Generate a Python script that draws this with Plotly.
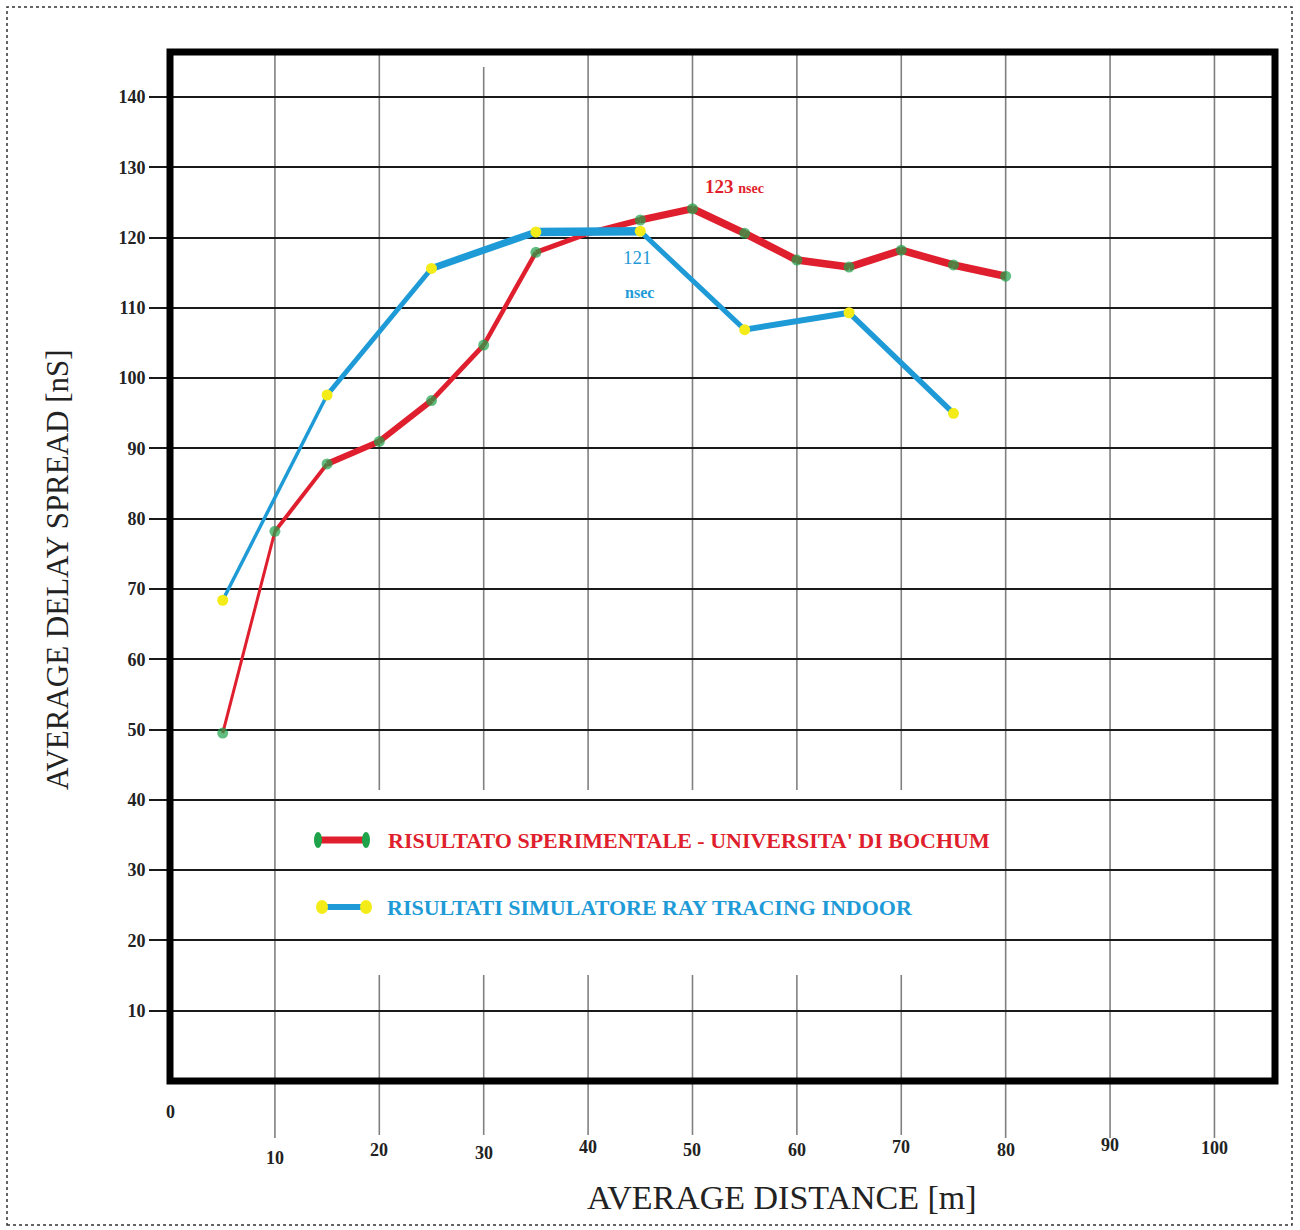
import plotly.graph_objects as go

# ---------------- data ----------------
distance_red = [5, 10, 15, 20, 25, 30, 35, 40, 45, 50, 55, 60, 65, 70, 75, 80]
delay_red = [49.5, 78.2, 87.8, 91.0, 96.8, 104.7, 117.9, 120.6, 122.5, 124.1,
             120.6, 116.8, 115.8, 118.2, 116.1, 114.5]
distance_blue = [5, 15, 25, 35, 45, 55, 65, 75]
delay_blue = [68.4, 97.6, 115.6, 120.8, 120.9, 106.9, 109.3, 95.0]

x_tick_values = [0, 10, 20, 30, 40, 50, 60, 70, 80, 90, 100]
x_tick_labels = ["0", "10", "20", "30", "40", "50", "60", "70", "80", "90", "100"]
y_tick_values = [10, 20, 30, 40, 50, 60, 70, 80, 90, 100, 110, 120, 130, 140]
y_tick_labels = ["10", "20", "30", "40", "50", "60", "70", "80", "90", "100",
                 "110", "120", "130", "140"]

series_names = ["RISULTATO SPERIMENTALE - UNIVERSITA' DI BOCHUM",
                "RISULTATI SIMULATORE RAY TRACING INDOOR"]
x_title = "AVERAGE DISTANCE [m]"
y_title = "AVERAGE DELAY SPREAD [nS]"
red_peak_label = ("123", "nsec")
blue_peak_label = ("121", "nsec")

# ---------------- style ----------------
W, H = 1300, 1230
ML, MR, MT, MB = 170, 25, 52, 149
RED = "#e01f2e"
BLUE = "#1e9bd7"
GREEN = "#1ea34a"
YELLOW = "#f3ec19"
SERIF = "Liberation Serif"


def px(x):
    return (x - ML) / (W - ML - MR)


def py(y):
    return (H - MB - y) / (H - MT - MB)


red_widths = [3, 4, 6, 6, 5, 4.5, 5, 6, 7, 7.5, 7.5, 7.5, 7.5, 7.5, 7.5]
blue_widths = [3.5, 5, 7, 8.5, 5, 6, 5.5]
red_marker_sizes = [11, 11, 11, 11, 11, 11, 11, 0, 11, 11, 11, 11, 11, 11, 11, 11]

fig = go.Figure()

for i in range(len(distance_red) - 1):
    fig.add_trace(go.Scatter(
        x=distance_red[i:i + 2], y=delay_red[i:i + 2], mode="lines",
        line=dict(color=RED, width=red_widths[i]), showlegend=False,
        hoverinfo="skip"))
for i in range(len(distance_blue) - 1):
    fig.add_trace(go.Scatter(
        x=distance_blue[i:i + 2], y=delay_blue[i:i + 2], mode="lines",
        line=dict(color=BLUE, width=blue_widths[i]), showlegend=False,
        hoverinfo="skip"))

fig.add_trace(go.Scatter(
    x=distance_blue, y=delay_blue, mode="markers", name=series_names[1],
    marker=dict(color=YELLOW, size=11, symbol="circle", line=dict(width=0)),
    showlegend=False))
fig.add_trace(go.Scatter(
    x=distance_red, y=delay_red, mode="markers", name=series_names[0],
    marker=dict(color=GREEN, size=red_marker_sizes, symbol="circle", line=dict(width=0)),
    showlegend=False))

shapes = []
# vertical grid lines (gray, interrupted behind the legend)
for xv in x_tick_values[1:]:
    top = py(67) if xv == 30 else 1
    if 20 <= xv <= 70:
        segs = [(py(790), top), (py(1135), py(975))]
    else:
        segs = [(py(1138), top)]
    for y0, y1 in segs:
        shapes.append(dict(type="line", xref="x", yref="paper", x0=xv, x1=xv,
                           y0=y0, y1=y1, line=dict(color="#808080", width=1.6),
                           layer="below"))

# thick black frame
shapes.append(dict(type="rect", xref="paper", yref="paper", x0=0, x1=1, y0=0, y1=1,
                   line=dict(color="black", width=7), layer="above"))
# dotted outer border
shapes.append(dict(type="rect", xref="paper", yref="paper", x0=px(7), x1=px(1292),
                   y0=py(1225), y1=py(7), line=dict(color="#333333", width=1.5, dash="dot")))

# legend symbols
shapes.append(dict(type="line", xref="paper", yref="paper", x0=px(318), x1=px(366),
                   y0=py(840), y1=py(840), line=dict(color=RED, width=7)))
for cx in (318, 366):
    shapes.append(dict(type="circle", xref="paper", yref="paper", x0=px(cx - 4), x1=px(cx + 4),
                       y0=py(848), y1=py(832), fillcolor=GREEN, line=dict(width=0)))
shapes.append(dict(type="line", xref="paper", yref="paper", x0=px(322), x1=px(366),
                   y0=py(907), y1=py(907), line=dict(color=BLUE, width=6)))
for cx in (322, 366):
    shapes.append(dict(type="circle", xref="paper", yref="paper", x0=px(cx - 6), x1=px(cx + 6),
                       y0=py(914), y1=py(900), fillcolor=YELLOW, line=dict(width=0)))

annotations = []
# x tick labels (slightly staggered as in the original)
x_label_pix_y = [1112, 1158, 1150, 1153, 1147, 1150, 1150, 1147, 1150, 1145, 1148]
for xv, lab, yy in zip(x_tick_values, x_tick_labels, x_label_pix_y):
    annotations.append(dict(x=xv, xref="x", y=py(yy), yref="paper", text=lab,
                            showarrow=False, xanchor="center", yanchor="middle",
                            font=dict(family=SERIF, size=18, color="#222222", weight="bold")))

# axis titles
annotations.append(dict(x=px(782), y=py(1197), xref="paper", yref="paper", text=x_title,
                        showarrow=False, xanchor="center", yanchor="middle",
                        font=dict(family=SERIF, size=34, color="#222222")))
annotations.append(dict(x=px(57), y=py(570), xref="paper", yref="paper", text=y_title,
                        showarrow=False, xanchor="center", yanchor="middle", textangle=-90,
                        font=dict(family=SERIF, size=31, color="#222222")))

# legend texts
annotations.append(dict(x=px(386), y=py(840), xref="paper", yref="paper", text=series_names[0],
                        showarrow=False, xanchor="left", yanchor="middle",
                        font=dict(family=SERIF, size=22, color=RED, weight="bold")))
annotations.append(dict(x=px(385), y=py(907), xref="paper", yref="paper", text=series_names[1],
                        showarrow=False, xanchor="left", yanchor="middle",
                        font=dict(family=SERIF, size=22, color=BLUE, weight="bold")))

# peak labels
annotations.append(dict(x=54.0, y=127.2, xref="x", yref="y",
                        text=f"{red_peak_label[0]} <span style='font-size:14px'>{red_peak_label[1]}</span>",
                        showarrow=False, xanchor="center", yanchor="middle",
                        font=dict(family=SERIF, size=19, color=RED, weight="bold")))
annotations.append(dict(x=44.7, y=117.2, xref="x", yref="y", text=blue_peak_label[0],
                        showarrow=False, xanchor="center", yanchor="middle",
                        font=dict(family=SERIF, size=19, color=BLUE)))
annotations.append(dict(x=44.9, y=112.2, xref="x", yref="y", text=blue_peak_label[1],
                        showarrow=False, xanchor="center", yanchor="middle",
                        font=dict(family=SERIF, size=16, color=BLUE, weight="bold")))

fig.update_layout(
    width=W, height=H,
    margin=dict(l=ML, r=MR, t=MT, b=MB, pad=0),
    paper_bgcolor="white", plot_bgcolor="white",
    showlegend=False,
    shapes=shapes,
    annotations=annotations,
    xaxis=dict(range=[-0.05, 105.8], showgrid=False, zeroline=False,
               showticklabels=False, ticks="", showline=False),
    yaxis=dict(range=[0, 146.4], tickvals=y_tick_values, ticktext=y_tick_labels,
               showgrid=True, gridcolor="#1a1a1a", gridwidth=2, zeroline=False,
               ticks="outside", ticklen=20, tickwidth=2, tickcolor="#1a1a1a",
               showline=False,
               tickfont=dict(family=SERIF, size=18, color="#222222", weight="bold")),
)

fig.write_html("out.html")
